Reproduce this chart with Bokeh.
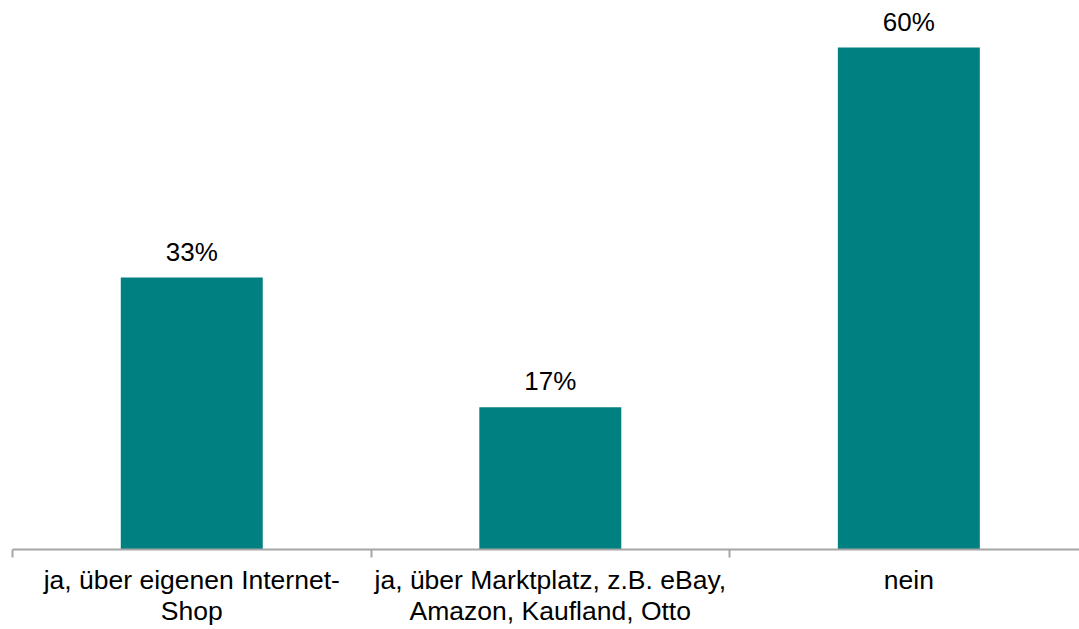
from bokeh.plotting import figure
from bokeh.models import FixedTicker, Range1d, ColumnDataSource
from bokeh.embed import file_html
from bokeh.resources import INLINE
from bokeh.core.properties import value

categories = ["ja, über eigenen Internet-\nShop",
              "ja, über Marktplatz, z.B. eBay,\nAmazon, Kaufland, Otto",
              "nein"]
values = [32.5, 17.0, 60.0]
value_labels = ["33%", "17%", "60%"]

FONT = "Liberation Sans"
BAR = "#008080"
AXIS = "#A6A6A6"

xs = [i + 0.5 for i in range(len(categories))]
src = ColumnDataSource(dict(x=xs, top=values, lab=value_labels))

p = figure(width=1079, height=629, output_backend="svg", toolbar_location=None,
           x_range=Range1d(0, 2.976), y_range=Range1d(0, 65.62),
           min_border_left=12, min_border_right=0, min_border_top=0, min_border_bottom=0)
p.outline_line_color = None
p.grid.visible = False
p.yaxis.visible = False

p.vbar(x="x", top="top", width=0.396, source=src, fill_color=BAR, line_color=None)
p.text(x="x", y="top", text="lab", source=src, text_align="center",
       text_baseline="alphabetic", y_offset=-26,
       text_font=value(FONT), text_font_size="26px", text_color="#000000")

ax = p.xaxis[0]
ax.ticker = FixedTicker(ticks=xs, minor_ticks=[0, 1, 2])
ax.major_label_overrides = {x: c for x, c in zip(xs, categories)}
ax.major_tick_out = 0
ax.major_tick_in = 0
ax.minor_tick_out = 8
ax.minor_tick_in = 0
ax.minor_tick_line_color = AXIS
ax.minor_tick_line_width = 2
ax.axis_line_color = AXIS
ax.axis_line_width = 2
ax.major_label_text_font = FONT
ax.major_label_text_font_size = "26.5px"
ax.major_label_text_color = "#000000"
ax.major_label_text_line_height = 1.05
ax.major_label_standoff = 7

open("out.html", "w").write(file_html(p, INLINE))
